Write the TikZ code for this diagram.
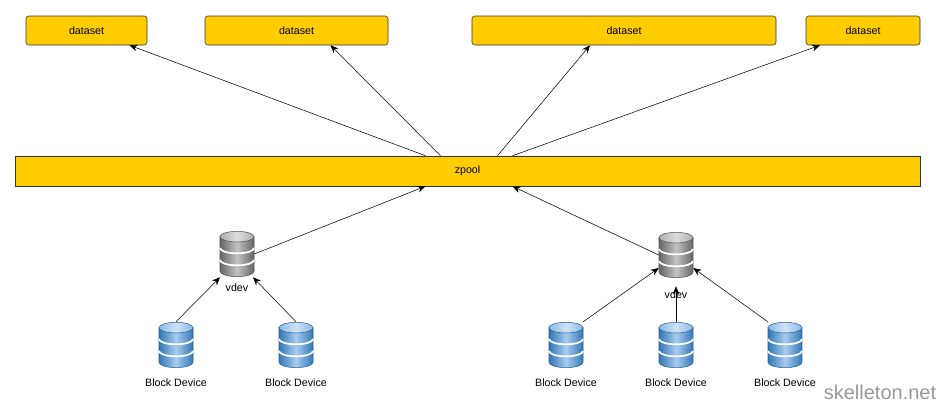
\documentclass[tikz,border=0pt]{standalone}
\usepackage{fontspec}
\setmainfont{Liberation Sans}
\usetikzlibrary{arrows.meta,positioning,calc}
\definecolor{zfsyellow}{RGB}{255,204,0}
\definecolor{diskblue}{RGB}{60,140,215}
\definecolor{diskgray}{RGB}{120,120,120}

\begin{document}
\begin{tikzpicture}[
    x=0.75pt, y=-0.75pt,
    every node/.style={font=\fontsize{8}{9}\selectfont},
    layer/.style={rectangle, rounded corners=2pt, draw=black!80, fill=zfsyellow, minimum height=21.75pt, inner sep=0pt},
    disk/.style={rectangle, minimum width=25.5pt, minimum height=34.5pt, inner sep=0pt},
    arrow/.style={-{Stealth[length=6pt,width=5pt]}, thin},
]
\useasboundingbox (0,0) rectangle (943,407);

% Datasets
\node[layer, minimum width=90.75pt] (ds1) at (86.5,30.5) {dataset};
\node[layer, minimum width=137.25pt] (ds2) at (296.5,30.5) {dataset};
\node[layer, minimum width=228pt] (ds3) at (624,30.5) {dataset};
\node[layer, minimum width=85.5pt] (ds4) at (863,30.5) {dataset};

% Pool
\node[layer, rounded corners=0pt, minimum width=678.75pt, minimum height=22.5pt] (pool) at (467.5,171) {zpool};

% vdevs
\node[disk] (vdevA) at (237,254) {};
\node[below=1pt of vdevA] (vdevAlbl) {vdev};
\node[disk] (vdevB) at (676,255) {};
\node[below=6pt of vdevB] (vdevBlbl) {vdev};

% Block devices
\foreach \n/\x in {bdA/176, bdB/296, bdC/566, bdD/676, bdE/785} {
    \node[disk] (\n) at (\x,345) {};
    \node[below=4pt of \n] (\n lbl) {Block Device};
}

% Disk icons
\foreach \n/\c in {vdevA/diskgray, vdevB/diskgray, bdA/diskblue, bdB/diskblue, bdC/diskblue, bdD/diskblue, bdE/diskblue} {
    \begin{scope}[shift={(\n.center)}, x=1pt, y=1pt]
        \shade[left color=\c!85!black, right color=\c!85!black, middle color=\c!45!white, draw=\c!70!black]
            (-12.75,13) -- (-12.75,-13) arc[start angle=180, end angle=360, x radius=12.75, y radius=4] -- (12.75,13) -- cycle;
        \foreach \dy in {4.5,-4.5} {
            \draw[white, line width=1.3pt] (-12.75,\dy) arc[start angle=180, end angle=360, x radius=12.75, y radius=4];
        }
        \shade[left color=\c!60!white, right color=\c!60!white, middle color=\c!25!white, draw=\c!70!black]
            (0,13) ellipse[x radius=12.75, y radius=4];
    \end{scope}
}

% Pool to datasets
\draw[arrow] ($(pool.north)+(-42,0)$) -- ($(ds1.south)+(43,0)$);
\draw[arrow] ($(pool.north)+(-27,0)$) -- ($(ds2.south)+(34,0)$);
\draw[arrow] ($(pool.north)+(30,0)$) -- ($(ds3.south)+(-34,0)$);
\draw[arrow] ($(pool.north)+(45,0)$) -- ($(ds4.south)+(-43,0)$);

% vdevs to pool
\draw[arrow] (vdevA.east) -- ($(pool.south)+(-42,0)$);
\draw[arrow] (vdevB.west) -- ($(pool.south)+(45,0)$);

% Block devices to vdevs
\draw[arrow] (bdA.north) -- ($(vdevA.south)+(-17,0)$);
\draw[arrow] (bdB.north) -- ($(vdevA.south)+(16,0)$);
\draw[arrow] (bdC.north east) -- ($(vdevB.west)+(0,13)$);
\draw[arrow] (bdD.north) -- (vdevBlbl.north);
\draw[arrow] (bdE.north west) -- ($(vdevB.east)+(0,13)$);

% Watermark
\node[font=\fontsize{15}{16}\selectfont, text=black!40] (mark) at (880,392) {skelleton.net};
\end{tikzpicture}
\end{document}
